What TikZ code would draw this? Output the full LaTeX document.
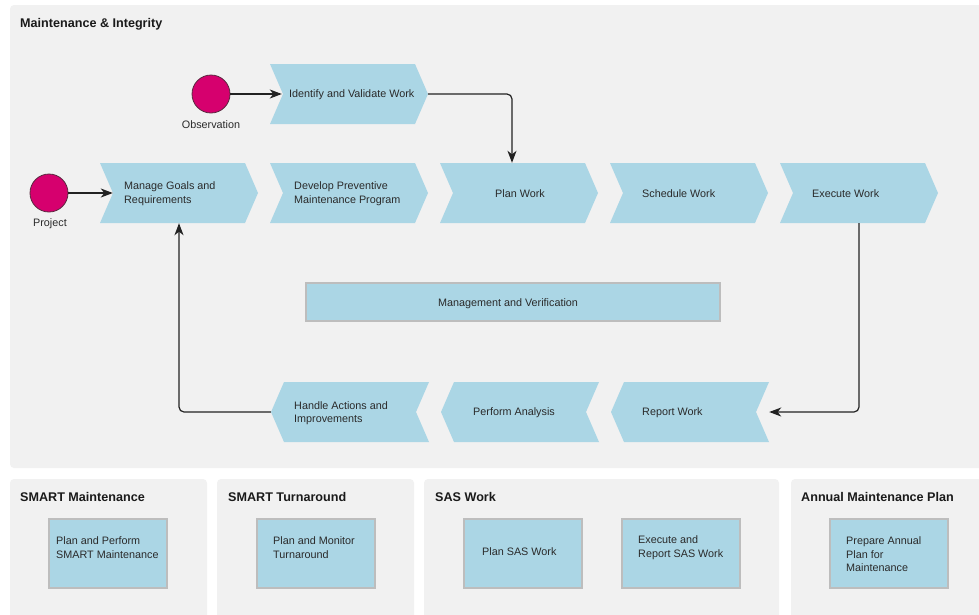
\documentclass[tikz,border=0pt]{standalone}
\usepackage{fontspec}
\setmainfont{Liberation Sans}
\usetikzlibrary{arrows.meta,calc}

\definecolor{panelgray}{HTML}{F1F1F1}
\definecolor{chevblue}{HTML}{ABD6E5}
\definecolor{dotpink}{HTML}{D6006E}
\definecolor{dotedge}{HTML}{5A2A40}
\definecolor{bodytext}{HTML}{2A2A2A}
\definecolor{headtext}{HTML}{1A1A1A}
\definecolor{boxedge}{HTML}{BDBDBD}
\definecolor{wirecol}{HTML}{222222}

\newcommand\fsbody{\fontsize{10.8pt}{13.6pt}\selectfont}
\newcommand\fshead{\fontsize{12.6pt}{15pt}\selectfont\bfseries}

\tikzset{
  panel/.style={fill=panelgray, rounded corners=4pt},
  ptitle/.style={anchor=west, inner sep=0pt, font=\fshead, text=headtext},
  ctext/.style={anchor=west, inner sep=0pt, align=left, font=\fsbody, text=bodytext, yshift=-1pt},
  lbl/.style={inner sep=0pt, font=\fsbody, text=bodytext, yshift=-1pt},
  % chevron pointing right: notch on the left, tip on the right
  chevright/.style={minimum width=158pt, minimum height=60pt, inner sep=0pt,
    path picture={\fill[chevblue]
      (path picture bounding box.north west)
      -- ([xshift=-13pt]path picture bounding box.north east)
      -- (path picture bounding box.east)
      -- ([xshift=-13pt]path picture bounding box.south east)
      -- (path picture bounding box.south west)
      -- ([xshift=13pt]path picture bounding box.west) -- cycle;}},
  % chevron pointing left: tip on the left, notch on the right
  chevleft/.style={minimum width=158pt, minimum height=60pt, inner sep=0pt,
    path picture={\fill[chevblue]
      ([xshift=13pt]path picture bounding box.north west)
      -- (path picture bounding box.north east)
      -- ([xshift=-13pt]path picture bounding box.east)
      -- (path picture bounding box.south east)
      -- ([xshift=13pt]path picture bounding box.south west)
      -- (path picture bounding box.west) -- cycle;}},
  dot/.style={circle, minimum size=38pt, inner sep=0pt, fill=dotpink, draw=dotedge, line width=0.8pt},
  mbox/.style={minimum width=414pt, minimum height=38pt, inner sep=0pt, fill=chevblue, draw=boxedge, line width=1.2pt},
  bbox/.style={minimum width=118pt, minimum height=69pt, inner sep=0pt, fill=chevblue, draw=boxedge, line width=1.5pt},
  wire/.style={draw=wirecol, line width=1.2pt, rounded corners=5pt,
    -{Stealth[length=12pt, width=9pt, inset=3.5pt]}}
}

\begin{document}
\begin{tikzpicture}[x=1pt, y=-1pt]
  \useasboundingbox (0,0) rectangle (979,614);
  \fill[white] (0,0) rectangle (979,614);

  % panels
  \fill[panel] (10,5) rectangle (992,468);
  \fill[panel] (10,479) rectangle (207,628);
  \fill[panel] (217,479) rectangle (414,628);
  \fill[panel] (424,479) rectangle (779,628);
  \fill[panel] (791,479) rectangle (992,628);

  \node[ptitle] (t-mi) at (20,24) {Maintenance \& Integrity};
  \node[ptitle] (t-sm) at (20,497) {SMART Maintenance};
  \node[ptitle] (t-st) at (228,497) {SMART Turnaround};
  \node[ptitle] (t-sas) at (435,497) {SAS Work};
  \node[ptitle] (t-amp) at (801,497) {Annual Maintenance Plan};

  % start events
  \node[dot] (obs) at (211,94) {};
  \node[lbl] (obs-l) at (211,124) {Observation};
  \node[dot] (proj) at (49,193) {};
  \node[lbl] (proj-l) at (50,223) {Project};

  % process chevrons
  \node[chevright] (ident) at (349,94) {};
  \node[ctext] (ident-t) at (289,94) {Identify and Validate Work};

  \node[chevright] (manage) at (179,193) {};
  \node[ctext] (manage-t) at (124,193) {Manage Goals and\\Requirements};
  \node[chevright] (develop) at (349,193) {};
  \node[ctext] (develop-t) at (294,193) {Develop Preventive\\Maintenance Program};
  \node[chevright] (plan) at (519,193) {};
  \node[ctext] (plan-t) at (495,193) {Plan Work};
  \node[chevright] (sched) at (689,193) {};
  \node[ctext] (sched-t) at (642,193) {Schedule Work};
  \node[chevright] (exec) at (859,193) {};
  \node[ctext] (exec-t) at (812,193) {Execute Work};

  \node[mbox] (mv) at (513,302) {};
  \node[lbl] (mv-t) at (508,303) {Management and Verification};

  \node[chevleft] (handle) at (350,412) {};
  \node[ctext] (handle-t) at (294,412) {Handle Actions and\\Improvements};
  \node[chevleft] (perform) at (520,412) {};
  \node[ctext] (perform-t) at (473,412) {Perform Analysis};
  \node[chevleft] (report) at (690,412) {};
  \node[ctext] (report-t) at (642,412) {Report Work};

  % connectors
  \draw[wire] (obs) -- ([xshift=12pt]ident.west);
  \draw[wire] (proj) -- ([xshift=13pt]manage.west);
  \draw[wire] (ident.east) -| ([xshift=-7pt]plan.north);
  \draw[wire] (exec.south) |- (report.east);
  \draw[wire] (handle.west) -| (manage.south);

  % lower panels
  \node[bbox] (b1) at (108,553.5) {};
  \node[ctext] (b1-t) at (56,546.5) {Plan and Perform\\SMART Maintenance};
  \node[bbox] (b2) at (316,553.5) {};
  \node[ctext] (b2-t) at (273,546.5) {Plan and Monitor\\Turnaround};
  \node[bbox] (b3) at (523,553.5) {};
  \node[ctext] (b3-t) at (482,551) {Plan SAS Work};
  \node[bbox] (b4) at (681,553.5) {};
  \node[ctext] (b4-t) at (638,546.5) {Execute and\\Report SAS Work};
  \node[bbox] (b5) at (889,553.5) {};
  \node[ctext] (b5-t) at (846,553.5) {Prepare Annual\\Plan for\\Maintenance};
\end{tikzpicture}
\end{document}
